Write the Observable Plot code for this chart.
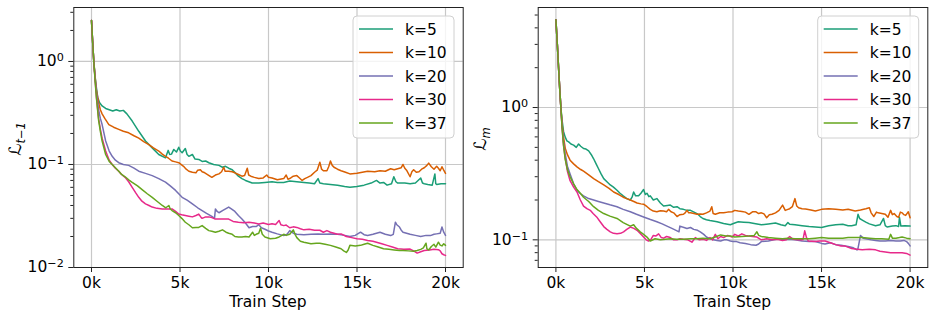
<!DOCTYPE html>
<html><head><meta charset="utf-8">
<script src="https://cdn.jsdelivr.net/npm/d3@7"></script>
<script src="https://cdn.jsdelivr.net/npm/@observablehq/plot@0.6"></script>
<style>
body{margin:0;background:#fff;}
#wrap{display:flex;width:935px;height:318px;}
#wrap svg{display:block;}
</style></head><body><div id="wrap"></div>
<script>
// ---------- labels ----------
const seriesNames = ["k=5","k=10","k=20","k=30","k=37"];
const seriesColors = ["#1b9e77","#d95f02","#7570b3","#e7298a","#66a61e"];
const xTicks = [0,5000,10000,15000,20000];
const xTickLabels = ["0k","5k","10k","15k","20k"];
const xLabel = "Train Step";
const leftYMajor = [0.01,0.1,1];
const leftYMajorExp = ["−2","−1","0"];
const leftYMinor = [0.02,0.03,0.04,0.05,0.06,0.07,0.08,0.09,0.2,0.3,0.4,0.5,0.6,0.7,0.8,0.9,2,3];
const rightYMajor = [0.1,1];
const rightYMajorExp = ["−1","0"];
const rightYMinor = [0.07,0.08,0.09,0.2,0.3,0.4,0.5,0.6,0.7,0.8,0.9,2,3,4,5];

// ---------- left panel: L_{t-1} ----------
const lt_k5 = [[0,2.5],[60,1.6],[130,1.0],[200,0.72],[280,0.55],[350,0.45],[450,0.4],[600,0.37],[800,0.35],[1000,0.34],[1200,0.33],[1400,0.34],[1600,0.33],[1800,0.335],[2000,0.31],[2300,0.264],[2670,0.21],[3050,0.169],[3430,0.145],[3800,0.125],[4180,0.116],[4330,0.137],[4420,0.125],[4520,0.126],[4650,0.14],[4800,0.132],[4930,0.147],[5020,0.135],[5120,0.13],[5300,0.143],[5400,0.125],[5500,0.12],[5700,0.125],[5850,0.113],[6060,0.112],[6250,0.107],[6450,0.108],[6630,0.104],[6900,0.1],[7200,0.098],[7400,0.094],[7570,0.096],[7750,0.092],[7950,0.089],[8150,0.082],[8300,0.077],[8500,0.073],[8700,0.070],[9080,0.066],[9450,0.066],[9800,0.067],[10200,0.068],[10500,0.067],[10860,0.067],[11200,0.069],[11600,0.068],[12000,0.067],[12300,0.066],[12600,0.065],[12800,0.073],[12900,0.066],[13100,0.065],[13500,0.064],[13900,0.063],[14300,0.061],[14600,0.060],[15000,0.061],[15400,0.063],[15800,0.066],[16100,0.07],[16300,0.066],[16500,0.067],[16700,0.063],[16950,0.065],[17080,0.076],[17200,0.068],[17300,0.066],[17700,0.066],[18000,0.065],[18300,0.066],[18600,0.074],[18700,0.066],[18800,0.065],[19000,0.064],[19250,0.063],[19400,0.081],[19450,0.065],[19500,0.064],[19750,0.065],[20000,0.065]];
const lt_k10 = [[0,2.5],[60,1.6],[130,1.0],[200,0.72],[280,0.52],[400,0.4],[500,0.34],[600,0.31],[750,0.28],[980,0.244],[1250,0.23],[1540,0.219],[1800,0.21],[2100,0.203],[2400,0.19],[2670,0.18],[2950,0.167],[3240,0.156],[3500,0.145],[3800,0.135],[4000,0.126],[4180,0.12],[4350,0.115],[4550,0.108],[4750,0.106],[4930,0.104],[5200,0.096],[5350,0.09],[5500,0.086],[5700,0.084],[5900,0.083],[6000,0.088],[6150,0.089],[6250,0.085],[6400,0.083],[6600,0.079],[6800,0.075],[7000,0.079],[7200,0.081],[7350,0.085],[7470,0.094],[7550,0.086],[7750,0.086],[7950,0.085],[8100,0.083],[8300,0.080],[8500,0.077],[8650,0.078],[8800,0.092],[8880,0.079],[9000,0.077],[9200,0.075],[9450,0.073],[9700,0.074],[9900,0.079],[10000,0.075],[10200,0.074],[10500,0.071],[10860,0.073],[11000,0.079],[11100,0.072],[11200,0.073],[11400,0.077],[11600,0.078],[11750,0.074],[11900,0.070],[12050,0.073],[12200,0.075],[12400,0.078],[12600,0.084],[12750,0.088],[12900,0.105],[13000,0.09],[13100,0.087],[13300,0.087],[13400,0.095],[13500,0.108],[13600,0.098],[13700,0.094],[13900,0.09],[14100,0.087],[14350,0.084],[14600,0.081],[15000,0.082],[15300,0.084],[15600,0.086],[16000,0.085],[16300,0.087],[16600,0.086],[16900,0.091],[17100,0.089],[17300,0.091],[17500,0.093],[17600,0.1],[17700,0.092],[17800,0.088],[18000,0.076],[18100,0.085],[18200,0.089],[18350,0.084],[18500,0.085],[18650,0.09],[18800,0.093],[18950,0.098],[19050,0.103],[19200,0.095],[19350,0.09],[19500,0.096],[19600,0.092],[19700,0.087],[19800,0.095],[19900,0.088],[20000,0.082]];
const lt_k20 = [[0,2.5],[60,1.6],[130,1.0],[200,0.7],[280,0.5],[400,0.34],[500,0.28],[600,0.244],[800,0.169],[1000,0.135],[1170,0.12],[1350,0.11],[1540,0.104],[1800,0.1],[2100,0.098],[2400,0.092],[2670,0.086],[3050,0.082],[3430,0.078],[3800,0.073],[4180,0.0675],[4450,0.062],[4750,0.056],[5120,0.048],[5400,0.045],[5700,0.0415],[6000,0.038],[6250,0.0357],[6500,0.0335],[6800,0.0313],[6950,0.03],[7000,0.037],[7100,0.035],[7200,0.034],[7450,0.036],[7750,0.0386],[7900,0.037],[8100,0.035],[8300,0.032],[8500,0.0296],[8700,0.027],[8900,0.0243],[9100,0.025],[9300,0.025],[9450,0.026],[9600,0.0243],[9800,0.0235],[10000,0.0226],[10200,0.022],[10500,0.0212],[10860,0.0204],[11050,0.021],[11200,0.0228],[11400,0.0215],[11600,0.021],[12000,0.0208],[12400,0.021],[12800,0.0212],[13100,0.021],[13500,0.0212],[13900,0.021],[14300,0.0205],[14600,0.02],[14900,0.0205],[15200,0.022],[15400,0.0208],[15600,0.0204],[15900,0.021],[16100,0.0215],[16300,0.022],[16600,0.021],[16900,0.0204],[17050,0.021],[17170,0.0275],[17250,0.026],[17400,0.0247],[17500,0.023],[17600,0.022],[17800,0.0215],[18000,0.021],[18300,0.0205],[18600,0.02],[18900,0.0205],[19150,0.0204],[19350,0.021],[19500,0.0212],[19700,0.0215],[19800,0.0247],[19900,0.022],[20000,0.0205]];
const lt_k30 = [[0,2.5],[60,1.6],[130,1.0],[200,0.68],[280,0.45],[400,0.28],[500,0.22],[600,0.18],[800,0.135],[1000,0.11],[1170,0.1],[1350,0.092],[1540,0.086],[1700,0.08],[1900,0.075],[2100,0.068],[2300,0.06],[2500,0.053],[2670,0.048],[2850,0.044],[3050,0.0415],[3250,0.04],[3430,0.0386],[3700,0.0375],[4000,0.037],[4300,0.037],[4550,0.037],[4750,0.035],[4930,0.033],[5100,0.0325],[5300,0.032],[5500,0.0315],[5700,0.031],[5900,0.032],[6060,0.033],[6200,0.0305],[6250,0.03],[6450,0.031],[6630,0.031],[6800,0.0305],[7000,0.0295],[7200,0.0296],[7500,0.0295],[7750,0.0295],[8000,0.028],[8300,0.0275],[8600,0.0272],[8900,0.0275],[9200,0.027],[9450,0.0265],[9700,0.027],[10000,0.0262],[10200,0.0266],[10400,0.0262],[10600,0.0286],[10700,0.026],[10860,0.0255],[11000,0.0258],[11200,0.0243],[11400,0.0248],[11600,0.0245],[11800,0.0238],[12000,0.0232],[12300,0.0235],[12600,0.023],[12900,0.023],[13100,0.022],[13300,0.0228],[13500,0.022],[13900,0.021],[14100,0.0212],[14400,0.02],[14700,0.0195],[15000,0.019],[15300,0.0188],[15600,0.0183],[15900,0.018],[16100,0.0176],[16400,0.017],[16700,0.0164],[17000,0.0158],[17300,0.0152],[17650,0.015],[18000,0.0151],[18200,0.0145],[18400,0.0138],[18600,0.0142],[18800,0.0146],[19100,0.0148],[19350,0.015],[19600,0.0149],[19700,0.0145],[19800,0.0136],[19900,0.0133],[20000,0.0131]];
const lt_k37 = [[0,2.5],[60,1.6],[130,1.0],[200,0.66],[280,0.44],[400,0.27],[500,0.21],[600,0.169],[800,0.125],[1000,0.107],[1170,0.1],[1350,0.093],[1540,0.086],[1700,0.08],[1900,0.076],[2100,0.071],[2300,0.067],[2600,0.062],[2860,0.057],[3150,0.052],[3430,0.048],[3700,0.044],[4000,0.04],[4200,0.038],[4370,0.04],[4450,0.037],[4550,0.0357],[4750,0.034],[4930,0.032],[5100,0.03],[5300,0.0275],[5500,0.026],[5700,0.0243],[5900,0.0245],[6060,0.0245],[6250,0.0255],[6450,0.024],[6630,0.0228],[6800,0.0225],[7000,0.022],[7200,0.0225],[7400,0.0232],[7600,0.022],[7750,0.0215],[7950,0.021],[8100,0.02],[8300,0.0198],[8500,0.0198],[8700,0.02],[8900,0.0198],[9100,0.022],[9200,0.0205],[9300,0.021],[9450,0.0215],[9550,0.024],[9650,0.021],[9800,0.0198],[10100,0.019],[10400,0.0192],[10600,0.0198],[10860,0.021],[11000,0.0205],[11200,0.021],[11400,0.0232],[11500,0.021],[11600,0.0195],[11800,0.018],[12000,0.0176],[12400,0.017],[12700,0.0172],[12900,0.0172],[13200,0.0168],[13500,0.0164],[13800,0.0158],[14100,0.0152],[14250,0.0145],[14400,0.014],[14500,0.0148],[14600,0.0164],[14900,0.0162],[15200,0.0164],[15400,0.0168],[15600,0.0172],[15900,0.0164],[16200,0.0158],[16500,0.0152],[16800,0.015],[17100,0.0148],[17400,0.0146],[17600,0.0146],[17900,0.0145],[18200,0.0144],[18400,0.0146],[18600,0.015],[18750,0.0155],[18900,0.0172],[18950,0.0152],[19050,0.0148],[19200,0.016],[19350,0.0168],[19450,0.0158],[19600,0.0176],[19700,0.0165],[19800,0.0162],[19900,0.017],[20000,0.0164]];

// ---------- right panel: L_m ----------
const lm_k5 = [[0,4.6],[80,3.0],[150,2.0],[220,1.35],[280,1.0],[350,0.8],[430,0.66],[520,0.6],[620,0.56],[720,0.55],[850,0.53],[1000,0.52],[1150,0.5],[1280,0.53],[1400,0.51],[1560,0.49],[1700,0.485],[1850,0.47],[2000,0.44],[2130,0.41],[2270,0.375],[2400,0.346],[2550,0.315],[2700,0.29],[2880,0.275],[3070,0.26],[3250,0.25],[3450,0.237],[3620,0.225],[3800,0.215],[4000,0.205],[4200,0.2],[4300,0.21],[4390,0.23],[4500,0.215],[4670,0.215],[4800,0.225],[4950,0.24],[5050,0.22],[5140,0.225],[5250,0.212],[5330,0.215],[5500,0.2],[5700,0.205],[5900,0.19],[6080,0.18],[6300,0.182],[6460,0.183],[6650,0.176],[6840,0.178],[7000,0.172],[7200,0.17],[7400,0.167],[7600,0.167],[7800,0.162],[7970,0.158],[8150,0.15],[8300,0.145],[8500,0.142],[8700,0.14],[9100,0.137],[9470,0.133],[9850,0.13],[10100,0.134],[10300,0.137],[10600,0.136],[10900,0.135],[11200,0.133],[11600,0.13],[12000,0.132],[12400,0.134],[12700,0.13],[12950,0.128],[13100,0.135],[13200,0.131],[13500,0.13],[13900,0.128],[14300,0.126],[14650,0.125],[15000,0.124],[15400,0.128],[15800,0.13],[16200,0.131],[16500,0.128],[16700,0.128],[16950,0.13],[17060,0.156],[17150,0.145],[17300,0.141],[17500,0.136],[17700,0.132],[18050,0.128],[18300,0.13],[18500,0.145],[18600,0.128],[18700,0.125],[19000,0.127],[19200,0.128],[19350,0.126],[19400,0.148],[19480,0.127],[19700,0.128],[20000,0.127]];
const lm_k10 = [[0,4.6],[80,3.0],[150,2.0],[220,1.35],[280,1.0],[350,0.75],[430,0.6],[530,0.49],[650,0.44],[800,0.4],[1000,0.375],[1190,0.356],[1400,0.34],[1560,0.33],[1850,0.31],[2130,0.29],[2400,0.275],[2700,0.26],[3000,0.245],[3260,0.23],[3550,0.22],[3800,0.21],[4000,0.205],[4200,0.2],[4400,0.195],[4580,0.19],[4800,0.187],[4950,0.186],[5150,0.178],[5330,0.17],[5500,0.165],[5700,0.163],[5900,0.166],[6080,0.165],[6250,0.163],[6360,0.17],[6500,0.163],[6650,0.16],[6840,0.15],[7000,0.155],[7200,0.156],[7300,0.16],[7400,0.167],[7500,0.16],[7600,0.16],[7800,0.158],[7970,0.156],[8150,0.157],[8300,0.156],[8500,0.16],[8700,0.165],[8800,0.178],[8880,0.158],[9000,0.156],[9250,0.16],[9470,0.16],[9700,0.162],[9950,0.163],[10100,0.167],[10300,0.165],[10500,0.164],[10700,0.162],[10900,0.156],[11100,0.163],[11300,0.163],[11450,0.158],[11600,0.16],[11750,0.157],[11900,0.147],[12050,0.155],[12200,0.156],[12400,0.16],[12600,0.167],[12800,0.183],[12950,0.167],[13100,0.17],[13200,0.172],[13350,0.178],[13500,0.205],[13600,0.18],[13700,0.175],[13900,0.172],[14100,0.171],[14400,0.168],[14650,0.165],[15000,0.17],[15400,0.172],[15800,0.17],[16200,0.168],[16500,0.17],[16900,0.165],[17200,0.168],[17500,0.172],[17700,0.175],[17800,0.16],[17950,0.15],[18100,0.162],[18200,0.16],[18400,0.158],[18600,0.156],[18750,0.148],[18900,0.167],[19000,0.155],[19100,0.158],[19250,0.15],[19350,0.148],[19450,0.162],[19550,0.16],[19650,0.155],[19750,0.153],[19900,0.163],[20000,0.147]];
const lm_k20 = [[0,4.6],[80,3.0],[150,2.0],[220,1.35],[280,1.0],[350,0.72],[430,0.55],[520,0.45],[650,0.36],[800,0.315],[1000,0.265],[1190,0.237],[1350,0.225],[1560,0.215],[1850,0.205],[2130,0.2],[2400,0.195],[2700,0.19],[3050,0.184],[3450,0.178],[3800,0.17],[4200,0.163],[4550,0.156],[4950,0.149],[5300,0.143],[5700,0.137],[6000,0.132],[6270,0.127],[6550,0.122],[6840,0.117],[6950,0.115],[7000,0.127],[7150,0.125],[7400,0.122],[7600,0.124],[7780,0.12],[8000,0.118],[8150,0.115],[8350,0.11],[8500,0.105],[8700,0.102],[8900,0.1],[9100,0.099],[9300,0.098],[9500,0.1],[9660,0.1],[9850,0.098],[10000,0.097],[10200,0.097],[10400,0.095],[10700,0.094],[11000,0.092],[11300,0.091],[11450,0.093],[11600,0.097],[12000,0.098],[12300,0.1],[12600,0.102],[12850,0.1],[13100,0.101],[13500,0.1],[13900,0.098],[14300,0.097],[14650,0.097],[15000,0.094],[15200,0.093],[15500,0.095],[15800,0.092],[16100,0.091],[16500,0.089],[16800,0.087],[17000,0.084],[17050,0.085],[17200,0.108],[17350,0.103],[17500,0.102],[17800,0.1],[18050,0.099],[18300,0.098],[18600,0.098],[18900,0.099],[19200,0.098],[19450,0.098],[19650,0.099],[19800,0.097],[19900,0.094],[20000,0.09]];
const lm_k30 = [[0,4.6],[80,3.0],[150,2.0],[220,1.35],[280,1.0],[350,0.7],[430,0.52],[520,0.42],[650,0.33],[800,0.28],[1000,0.25],[1190,0.23],[1380,0.2],[1560,0.18],[1750,0.172],[1940,0.167],[2100,0.158],[2300,0.149],[2500,0.137],[2700,0.126],[2880,0.12],[3070,0.115],[3250,0.112],[3450,0.111],[3650,0.112],[3820,0.115],[4000,0.12],[4200,0.125],[4400,0.122],[4580,0.118],[4750,0.112],[4950,0.105],[5100,0.1],[5230,0.098],[5350,0.1],[5500,0.108],[5650,0.107],[5800,0.111],[5950,0.104],[6080,0.103],[6250,0.106],[6460,0.104],[6650,0.1],[6840,0.1],[7000,0.102],[7200,0.101],[7450,0.1],[7680,0.096],[7870,0.104],[8100,0.1],[8340,0.101],[8500,0.099],[8700,0.104],[8850,0.1],[9000,0.11],[9150,0.102],[9300,0.106],[9470,0.104],[9700,0.108],[9950,0.105],[10100,0.11],[10300,0.107],[10500,0.111],[10700,0.108],[11100,0.106],[11350,0.105],[11600,0.1],[11900,0.102],[12200,0.1],[12500,0.101],[12800,0.099],[13000,0.1],[13200,0.106],[13400,0.101],[13700,0.1],[13950,0.1],[14050,0.117],[14150,0.104],[14250,0.098],[14650,0.097],[14900,0.098],[15200,0.098],[15500,0.095],[15800,0.092],[16100,0.09],[16300,0.09],[16700,0.086],[17000,0.085],[17300,0.084],[17700,0.085],[18050,0.084],[18300,0.082],[18600,0.081],[18900,0.08],[19200,0.08],[19550,0.08],[19800,0.079],[20000,0.0767]];
const lm_k37 = [[0,4.6],[80,3.0],[150,2.0],[220,1.35],[280,1.0],[350,0.7],[430,0.52],[520,0.41],[650,0.34],[800,0.3],[1000,0.265],[1190,0.24],[1380,0.225],[1560,0.21],[1850,0.195],[2130,0.178],[2400,0.167],[2700,0.158],[3050,0.151],[3450,0.145],[3800,0.135],[4200,0.127],[4390,0.13],[4550,0.122],[4760,0.115],[4950,0.11],[5140,0.105],[5330,0.098],[5600,0.102],[5900,0.1],[6200,0.101],[6460,0.102],[6800,0.101],[7200,0.101],[7600,0.102],[7970,0.102],[8300,0.103],[8700,0.102],[9000,0.105],[9300,0.109],[9600,0.107],[9850,0.107],[10100,0.105],[10500,0.106],[10900,0.107],[11200,0.108],[11350,0.115],[11450,0.108],[11600,0.106],[12000,0.104],[12400,0.103],[12800,0.102],[13100,0.103],[13500,0.102],[13900,0.102],[14300,0.102],[14650,0.103],[15000,0.104],[15400,0.103],[15800,0.103],[16200,0.103],[16500,0.104],[16900,0.104],[17300,0.104],[17700,0.103],[18050,0.102],[18400,0.102],[18800,0.101],[18900,0.11],[19000,0.103],[19200,0.103],[19400,0.104],[19550,0.105],[19800,0.103],[20000,0.102]];

const FONT = '"DejaVu Sans", "Noto Sans", sans-serif';
const FS = 15.5;

function makePanel(o) {
  const rows = [];
  o.series.forEach((arr, i) => arr.forEach(([s, v]) => rows.push({step: s, value: v, k: seriesNames[i]})));
  const gridStyle = {stroke: "#c8c8c8", strokeOpacity: 1, strokeWidth: 1.2};
  const chart = Plot.plot({
    width: o.width, height: 318,
    marginLeft: o.marginLeft, marginRight: o.marginRight, marginTop: 7, marginBottom: 51,
    style: {fontFamily: FONT, fontSize: FS + "px", color: "#000", background: "#fff", overflow: "visible"},
    x: {domain: [-1000, 21000]},
    y: {type: "log", domain: o.yDomain},
    color: {domain: seriesNames, range: seriesColors},
    marks: [
      Plot.gridX(xTicks, gridStyle),
      Plot.gridY(o.yMajor, gridStyle),
      Plot.axisX(xTicks, {tickFormat: d => xTickLabels[xTicks.indexOf(d)], tickSize: 5, tickPadding: 4, label: null, stroke: "#222"}),
      Plot.axisY(o.yMajor, {tickFormat: d => "10" + o.yMajorExp[o.yMajor.indexOf(d)], tickSize: 5, tickPadding: 5, label: null, stroke: "#222"}),
      Plot.axisY(o.yMinor, {tickFormat: () => "", tickSize: 3, label: null, stroke: "#222"}),
      Plot.line(rows, {x: "step", y: "value", z: "k", stroke: "k", strokeWidth: 1.5}),
      Plot.frame({stroke: "#222", strokeWidth: 1})
    ]
  });
  const svg = d3.select(chart);
  // render y tick exponents as real superscripts
  svg.selectAll('g[aria-label="y-axis tick label"] text').each(function () {
    const t = this.textContent;
    if (!t || !t.startsWith("10")) return;
    const exp = t.slice(2);
    const el = d3.select(this);
    el.text(null);
    el.append("tspan").text("10");
    el.append("tspan").attr("dy", "-0.45em").attr("font-size", "0.72em").text(exp);
  });
  // x label
  svg.append("text").attr("x", o.marginLeft + (o.width - o.marginLeft - o.marginRight) / 2).attr("y", 307)
    .attr("text-anchor", "middle").attr("font-family", FONT).attr("font-size", FS).attr("fill", "#000").text(xLabel);
  // y label with subscript
  const yl = svg.append("text").attr("transform", `translate(${o.yLabelX},139) rotate(-90)`)
    .attr("text-anchor", "middle").attr("font-family", FONT).attr("font-size", 17).attr("fill", "#000");
  yl.append("tspan").text(o.yLabelMain);
  yl.append("tspan").attr("dy", 4).attr("font-size", 11.5).attr("font-style", "italic").text(o.yLabelSub);
  // legend
  const lx = o.legendX, ly = 16;
  const lg = svg.append("g").attr("text-anchor", "start");
  lg.append("rect").attr("x", lx).attr("y", ly).attr("width", 101).attr("height", 122).attr("rx", 4)
    .attr("fill", "#fff").attr("fill-opacity", 0.8).attr("stroke", "#d0d0d0").attr("stroke-width", 1);
  seriesNames.forEach((n, i) => {
    const cy = 29 + i * 23.5;
    lg.append("line").attr("x1", lx + 6).attr("x2", lx + 40).attr("y1", cy).attr("y2", cy)
      .attr("stroke", seriesColors[i]).attr("stroke-width", 1.6);
    lg.append("text").attr("x", lx + 52).attr("y", cy + 5.6).attr("text-anchor", "start")
      .attr("font-family", FONT).attr("font-size", FS).attr("fill", "#000").text(n);
  });
  return chart;
}

const wrap = document.getElementById("wrap");
wrap.appendChild(makePanel({
  series: [lt_k5, lt_k10, lt_k20, lt_k30, lt_k37], width: 467, marginLeft: 73.3, marginRight: 4.3,
  yDomain: [0.01, 3.34], yMajor: leftYMajor, yMajorExp: leftYMajorExp, yMinor: leftYMinor,
  yLabelMain: "ℒ", yLabelSub: "t−1", yLabelX: 21, legendX: 353
}));
wrap.appendChild(makePanel({
  series: [lm_k5, lm_k10, lm_k20, lm_k30, lm_k37], width: 468, marginLeft: 70.7, marginRight: 7.7,
  yDomain: [0.0618, 5.7], yMajor: rightYMajor, yMajorExp: rightYMajorExp, yMinor: rightYMinor,
  yLabelMain: "ℒ", yLabelSub: "m", yLabelX: 19, legendX: 350.7
}));
</script></body></html>
